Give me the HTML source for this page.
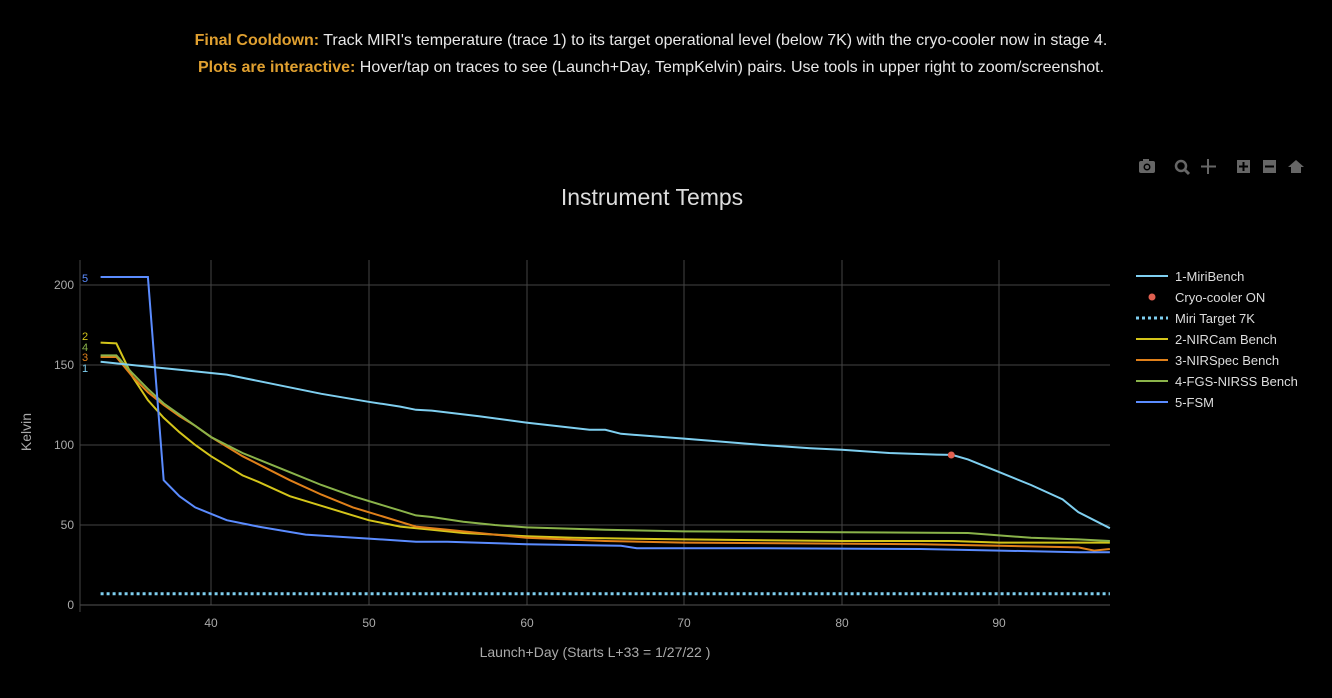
<!DOCTYPE html>
<html><head><meta charset="utf-8"><style>
html,body{margin:0;background:#000;width:1332px;height:698px;overflow:hidden;font-family:"Liberation Sans",sans-serif}
.hdr{position:absolute;left:0;width:1302px;text-align:center;color:#e8e8e8;font-size:16px}
.hdr b{color:#e0a030}
</style></head><body>
<div class="hdr" style="top:32px">  <b>Final Cooldown:</b> Track MIRI's temperature (trace 1) to its target operational level (below 7K) with the cryo-cooler now in stage 4.</div>
<div class="hdr" style="top:59px"><b>Plots are interactive:</b> Hover/tap on traces to see (Launch+Day, TempKelvin) pairs. Use tools in upper right to zoom/screenshot.</div>
<svg width="1332" height="698" style="position:absolute;left:0;top:0" font-family="Liberation Sans, sans-serif">
<g fill="#666"><rect x="1139" y="161" width="16" height="12" rx="2"/><rect x="1143" y="159" width="6" height="3"/><circle cx="1147" cy="167" r="3.5" fill="#000"/><circle cx="1147" cy="167" r="2"/>
<circle cx="1181" cy="166" r="5" fill="none" stroke="#666" stroke-width="2.5"/><line x1="1185" y1="170" x2="1189" y2="174" stroke="#666" stroke-width="3"/>
<path d="M1208 159v15M1201 166.5h15" stroke="#666" stroke-width="2"/>
<rect x="1237" y="160" width="13" height="13"/><rect x="1263" y="160" width="13" height="13"/>
<path d="M1288 167l8-7 8 7h-3v6h-10v-6z"/></g>
<path d="M1243.5 162v9M1239 166.5h9M1265 166.5h9" stroke="#000" stroke-width="2"/>
<text x="652" y="205" text-anchor="middle" fill="#ddd" font-size="23">Instrument Temps</text>
<g stroke="#444" stroke-width="1">
<line x1="211" y1="260" x2="211" y2="605"/><line x1="369" y1="260" x2="369" y2="605"/><line x1="527" y1="260" x2="527" y2="605"/><line x1="684" y1="260" x2="684" y2="605"/><line x1="842" y1="260" x2="842" y2="605"/><line x1="999" y1="260" x2="999" y2="605"/>
<line x1="80" y1="285" x2="1110" y2="285"/><line x1="80" y1="365" x2="1110" y2="365"/><line x1="80" y1="445" x2="1110" y2="445"/><line x1="80" y1="525" x2="1110" y2="525"/>
</g>
<line x1="80" y1="605" x2="1110" y2="605" stroke="#555"/>
<line x1="80" y1="260" x2="80" y2="612" stroke="#444"/>
<g fill="#aaa" font-size="12" text-anchor="end">
<text x="74" y="289">200</text><text x="74" y="369">150</text><text x="74" y="449">100</text><text x="74" y="529">50</text><text x="74" y="609">0</text></g>
<g fill="#aaa" font-size="12" text-anchor="middle">
<text x="211" y="627">40</text><text x="369" y="627">50</text><text x="527" y="627">60</text><text x="684" y="627">70</text><text x="842" y="627">80</text><text x="999" y="627">90</text></g>
<text x="595" y="657" text-anchor="middle" fill="#aaa" font-size="14">Launch+Day (Starts L+33 = 1/27/22 )</text>
<text x="31" y="432" text-anchor="middle" fill="#aaa" font-size="14" transform="rotate(-90 31 432)">Kelvin</text>
<g font-size="11"><text x="82" y="282" fill="#5b8cff">5</text><text x="82" y="340" fill="#d4c51a">2</text><text x="82" y="351" fill="#8ab34a">4</text><text x="82" y="361" fill="#e0801a">3</text><text x="82" y="372" fill="#7fcff0">1</text></g>
<g transform="translate(100.6,605) scale(15.77,-1.6) translate(-33,0)" fill="none" stroke-width="2" vector-effect="non-scaling-stroke">
<line x1="33" y1="7" x2="97" y2="7" stroke="#7fcff0" stroke-dasharray="3 3" stroke-width="3" vector-effect="non-scaling-stroke"/>
<polyline vector-effect="non-scaling-stroke" stroke="#d4c51a" stroke-width="2" points="33,164 34,163.5 35,143 36,128 37,117 38,108 39,100 40,93 41,87 42,81 43,77 45,68 47,62 49,56 50,53 52,49 54,47 56,45 58,44 60,43 63,42 70,41 80,40 87,40 90,39 97,39"/>
<polyline vector-effect="non-scaling-stroke" stroke="#e0801a" stroke-width="2" points="33,155 34,155 35,143 36,133 37,125 38,118 39,112 40,105 41,99 42,93 43,88 45,78 47,69 49,61 51,55 52,52 53,49 55,47 58,44 60,42 65,40 70,39 85,38 90,37 95,36 96,34 97,35"/>
<polyline vector-effect="non-scaling-stroke" stroke="#8ab34a" stroke-width="2" points="33,156 34,156 35,145 36,135 37,126 38,119 39,112 40,105 41,100 42,95 43,91 45,83 47,75 49,68 51,62 52,59 53,56 54,55 56,52 58,50 60,48.5 65,47 70,46 80,45.5 88,45 92,42 95,41 97,40"/>
<polyline vector-effect="non-scaling-stroke" stroke="#5b8cff" stroke-width="2" points="33,205 36,205 37,78 38,68 39,61 40,57 41,53 43,49 46,44 50,41.5 53,39.5 55,39.5 60,38 66,37 67,35.5 75,35.5 85,35 90,34 95,33 97,33"/>
<polyline vector-effect="non-scaling-stroke" stroke="#7fcff0" stroke-width="2" points="33,152 34,151 36,149 38,147 41,144 44,138 47,132 50,127 52,124 53,122 54,121.5 57,118 60,114 64,109.5 65,109.5 66,107 70,104 75,100 78,98 80,97 83,95 86,94 87,93.8 88,91 90,83 92,75 94,66 95,58 97,48"/>
</g>
<circle cx="951.3" cy="455" r="3.5" fill="#e06050"/>
<g font-size="13" fill="#ddd">
<line x1="1136" y1="276" x2="1168" y2="276" stroke="#7fcff0" stroke-width="2"/><text x="1175" y="281">1-MiriBench</text>
<circle cx="1152" cy="297" r="3.5" fill="#e06050"/><text x="1175" y="302">Cryo-cooler ON</text>
<line x1="1136" y1="318" x2="1168" y2="318" stroke="#7fcff0" stroke-width="3" stroke-dasharray="3 3"/><text x="1175" y="323">Miri Target 7K</text>
<line x1="1136" y1="339" x2="1168" y2="339" stroke="#d4c51a" stroke-width="2"/><text x="1175" y="344">2-NIRCam Bench</text>
<line x1="1136" y1="360" x2="1168" y2="360" stroke="#e0801a" stroke-width="2"/><text x="1175" y="365">3-NIRSpec Bench</text>
<line x1="1136" y1="381" x2="1168" y2="381" stroke="#8ab34a" stroke-width="2"/><text x="1175" y="386">4-FGS-NIRSS Bench</text>
<line x1="1136" y1="402" x2="1168" y2="402" stroke="#5b8cff" stroke-width="2"/><text x="1175" y="407">5-FSM</text>
</g>
</svg>
</body></html>
